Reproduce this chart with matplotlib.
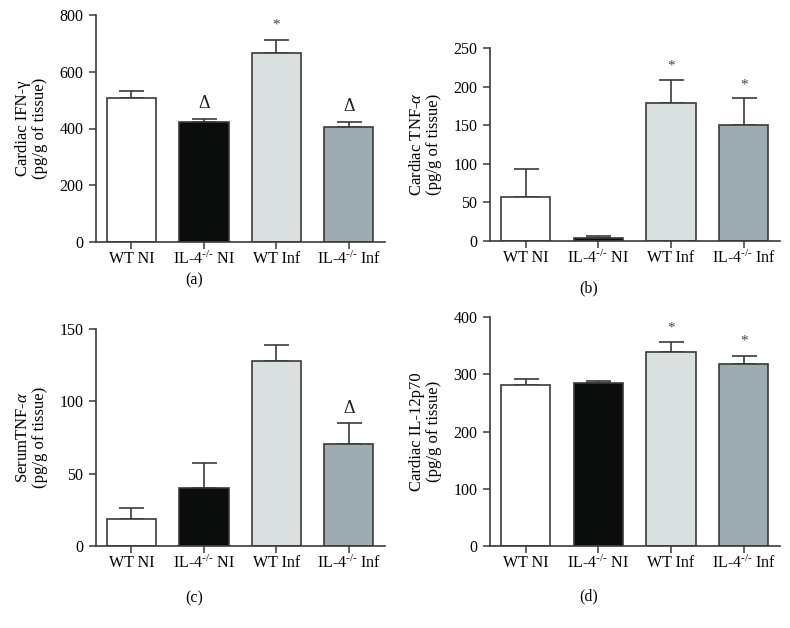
import matplotlib
matplotlib.use("Agg")
import matplotlib.pyplot as plt

plt.rcParams['font.family'] = ['Liberation Serif', 'DejaVu Serif']
plt.rcParams['mathtext.fontset'] = 'custom'
plt.rcParams['mathtext.rm'] = 'Liberation Serif'
plt.rcParams['mathtext.it'] = 'Liberation Serif:italic'

# ---- data ----
groups = ['WT NI', r'IL-4$^{\text{-/-}}$ NI', 'WT Inf', r'IL-4$^{\text{-/-}}$ Inf']
bar_colors = ['#ffffff', '#0b0d0c', '#d9e0df', '#9eacb2']

ifng_mean = [508, 424, 667, 404]
ifng_err = [25, 11, 45, 20]
ifng_marks = ['', 'Δ', '*', 'Δ']

tnf_mean = [57, 4, 179, 150]
tnf_err = [36, 2, 30, 35]
tnf_marks = ['', '', '*', '*']

serum_mean = [19, 40, 128, 70.5]
serum_err = [7.5, 17.5, 11, 14.5]
serum_marks = ['', '', '', 'Δ']

il12_mean = [282, 284, 338, 318]
il12_err = [9, 5, 18, 14]
il12_marks = ['', '', '*', '*']

panels = [
    # mean, err, marks, ylabel, yticks, letter, axes rect in px (left, top, right, bottom), letter offset
    (ifng_mean, ifng_err, ifng_marks, 'Cardiac IFN-γ\n(pg/g of tissue)',
     [0, 200, 400, 600, 800], '(a)', (96, 15, 385, 242), 38),
    (tnf_mean, tnf_err, tnf_marks, 'Cardiac TNF-$\\mathit{\\alpha}$\n(pg/g of tissue)',
     [0, 50, 100, 150, 200, 250], '(b)', (490, 48, 780, 241), 47),
    (serum_mean, serum_err, serum_marks, 'SerumTNF-$\\mathit{\\alpha}$\n(pg/g of tissue)',
     [0, 50, 100, 150], '(c)', (96, 329, 385, 546), 52),
    (il12_mean, il12_err, il12_marks, 'Cardiac IL-12p70\n(pg/g of tissue)',
     [0, 100, 200, 300, 400], '(d)', (490, 317, 780, 546), 50),
]

W, H = 790, 628
fig = plt.figure(figsize=(W / 100, H / 100), dpi=100)
edge = '#3a3a3a'

for mean, err, marks, ylabel, yticks, letter, (l, t, r, b), off in panels:
    ax = fig.add_axes([l / W, 1 - b / H, (r - l) / W, (b - t) / H])
    x = range(len(mean))
    ax.bar(x, mean, width=0.68, color=bar_colors, edgecolor=edge, linewidth=1.2, zorder=2)
    ax.errorbar(x, mean, yerr=[[0] * len(err), err], fmt='none', ecolor=edge,
                elinewidth=1.2, capsize=9, capthick=1.2, zorder=1)
    top = yticks[-1]
    for xi, m, e, s in zip(x, mean, err, marks):
        if s == '*':
            ax.text(xi, m + e + top * 0.035, s, ha='center', va='bottom', fontsize=11, color='#444')
        elif s:
            ax.text(xi, m + e + top * 0.03, s, ha='center', va='bottom', fontsize=13, color='#222')
    ax.set_xlim(-0.49, 3.5)
    ax.set_ylim(0, top)
    ax.set_yticks(yticks)
    ax.set_xticks(list(x))
    ax.set_xticklabels(groups)
    ax.tick_params(labelsize=11.5, length=5, width=1.1, color=edge, pad=4)
    ax.tick_params(axis='x', pad=1.5)
    for side in ['top', 'right']:
        ax.spines[side].set_visible(False)
    for side in ['left', 'bottom']:
        ax.spines[side].set_color(edge)
        ax.spines[side].set_linewidth(1.2)
    ax.set_ylabel(ylabel, fontsize=12, linespacing=1.15, labelpad=8)
    fig.text((l + 0.34 * (r - l)) / W, 1 - (b + off) / H, letter, ha='center', va='center', fontsize=11.5)

fig.savefig('out.png', dpi=100)
